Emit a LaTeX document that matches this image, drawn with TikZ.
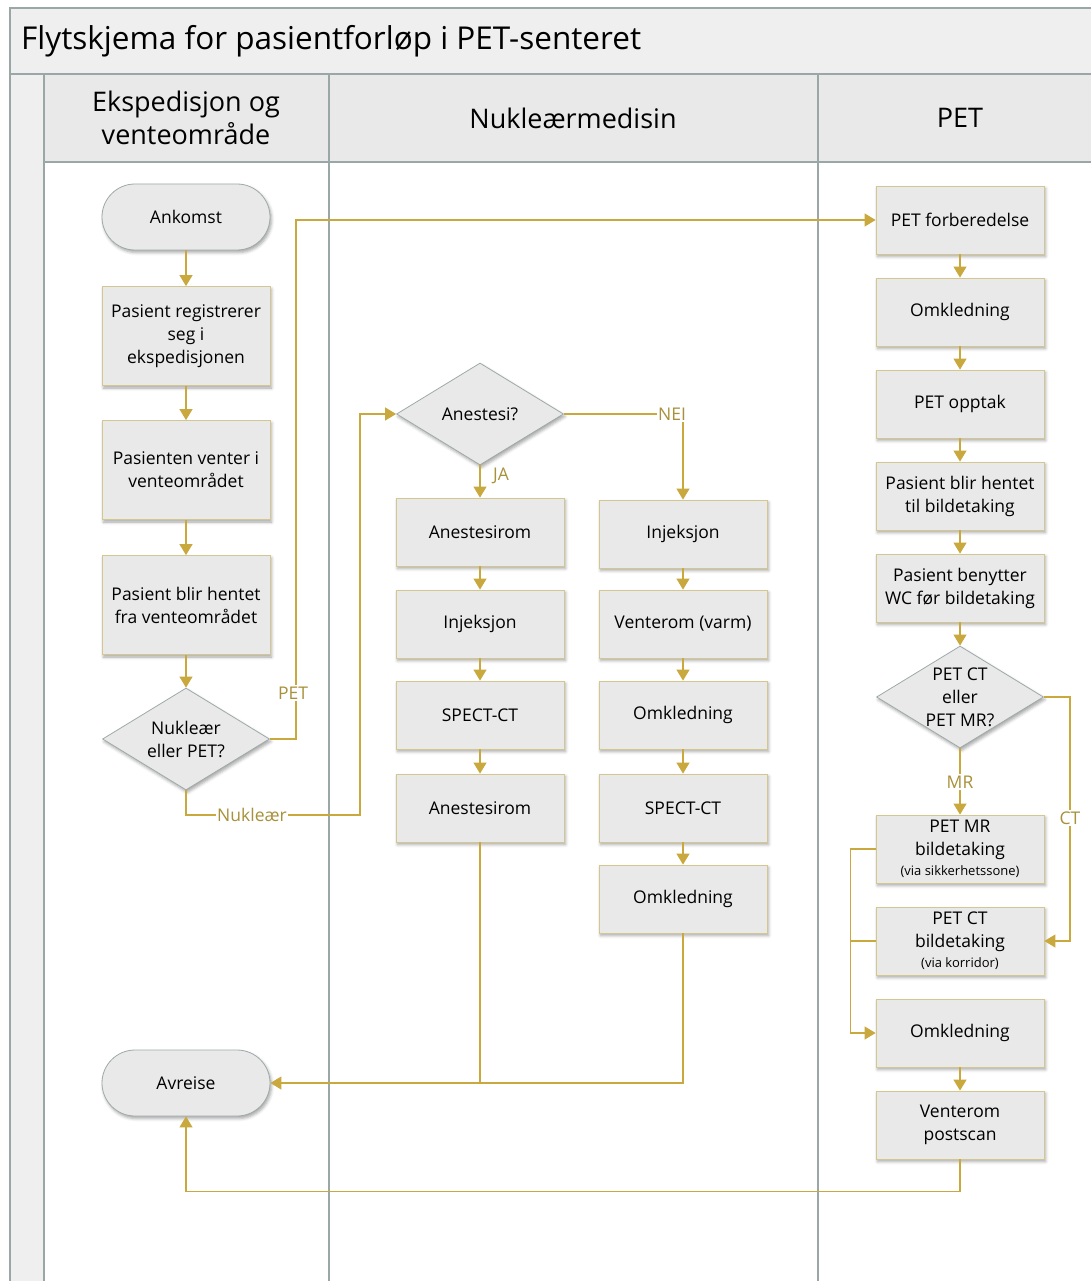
\documentclass[tikz,border=0pt]{standalone}
\usepackage{fontspec}
\setmainfont{Open Sans}
\usetikzlibrary{shapes.geometric,arrows.meta,shadows.blur}

\definecolor{lane}{HTML}{9BA7A7}
\definecolor{flow}{HTML}{C9A83E}
\definecolor{flowtext}{HTML}{A8913A}
\definecolor{boxfill}{HTML}{E9E9E9}
\definecolor{boxedge}{HTML}{D3C68E}
\definecolor{termedge}{HTML}{9FA9A9}
\definecolor{headfill}{HTML}{EFEFEF}
\definecolor{lanehead}{HTML}{E9E9E9}

\tikzset{
  boxshadow/.style={blur shadow={shadow xshift=1.5pt,shadow yshift=-2.5pt,shadow blur radius=3pt,shadow opacity=35}},
  proc/.style={rectangle,draw=boxedge,line width=0.8pt,fill=boxfill,boxshadow,
    minimum width=168,minimum height=68,align=center,inner sep=2pt,
    font=\fontsize{17.5}{23}\selectfont},
  tallproc/.style={proc,minimum height=99},
  term/.style={rectangle,rounded corners=33,draw=termedge,line width=0.8pt,fill=boxfill,boxshadow,
    minimum width=168,minimum height=66,font=\fontsize{17.5}{23}\selectfont},
  decision/.style={diamond,draw=termedge,line width=0.8pt,fill=boxfill,boxshadow,
    minimum width=167,minimum height=102,inner sep=0pt},
  dtext/.style={align=center,font=\fontsize{17.5}{23}\selectfont,inner sep=0pt},
  flowline/.style={draw=flow,line width=1.2pt},
  flowarrow/.style={flowline,-{Triangle[length=11pt,width=13pt]}},
  flowlabel/.style={fill=white,text=flowtext,inner sep=1.5pt,font=\fontsize{17.5}{19}\selectfont},
  laneline/.style={draw=lane,line width=1.3pt},
  headtext/.style={align=center,font=\fontsize{27}{33}\selectfont}
}
\newcommand{\viatext}[1]{{\fontsize{13}{15}\selectfont #1}}

\begin{document}
\begin{tikzpicture}[x=1pt,y=-1pt]
\useasboundingbox (0,0) rectangle (1091,1281);

% pool frame, title bar and lane headers
\fill[headfill] (10,8) rectangle (1091,74);
\fill[headfill] (10,74) rectangle (44,1281);
\fill[lanehead] (44,74) rectangle (1091,162);
\draw[laneline] (10,1281) -- (10,8) -- (1091,8);
\draw[laneline] (10,74) -- (1091,74);
\draw[laneline] (44,162) -- (1091,162);
\draw[laneline] (44,74) -- (44,1281);
\draw[laneline] (329,74) -- (329,1281);
\draw[laneline] (818,74) -- (818,1281);

\node[anchor=west,font=\fontsize{31.5}{36}\selectfont,inner sep=0pt] (title) at (21,41) {Flytskjema for pasientforløp i PET-senteret};
\node[headtext] (h1) at (186,118) {Ekspedisjon og\\venteområde};
\node[headtext] (h2) at (573,118) {Nukleærmedisin};
\node[headtext] (h3) at (960,118) {PET};

% lane 1: reception and waiting area
\node[term] (ankomst) at (186,217) {Ankomst};
\node[tallproc] (reg) at (186,336) {Pasient registrerer\\seg i\\ekspedisjonen};
\node[tallproc] (venter) at (186,470) {Pasienten venter i\\venteområdet};
\node[tallproc] (hentet) at (186,605) {Pasient blir hentet\\fra venteområdet};
\node[decision] (valg) at (186,739) {};
\node[dtext] (valgtxt) at (valg) {Nukleær\\eller PET?};
\node[term] (avreise) at (186,1083) {Avreise};

% lane 2: nuclear medicine
\node[decision] (anest) at (480,414) {};
\node[dtext] (anesttxt) at (anest) {Anestesi?};
\node[proc] (arA) at (480,532) {Anestesirom};
\node[proc] (injA) at (480,624) {Injeksjon};
\node[proc] (spectA) at (480,715) {SPECT-CT};
\node[proc] (arB) at (480,808) {Anestesirom};
\node[proc] (injB) at (683,534) {Injeksjon};
\node[proc] (varm) at (683,624) {Venterom (varm)};
\node[proc] (omkA) at (683,715) {Omkledning};
\node[proc] (spectB) at (683,808) {SPECT-CT};
\node[proc] (omkB) at (683,899) {Omkledning};

% lane 3: PET
\node[proc] (prep) at (960,220) {PET forberedelse};
\node[proc] (omkC) at (960,312) {Omkledning};
\node[proc] (opptak) at (960,404) {PET opptak};
\node[proc] (tilbilde) at (960,496) {Pasient blir hentet\\til bildetaking};
\node[proc] (wc) at (960,588) {Pasient benytter\\WC før bildetaking};
\node[decision] (modal) at (960,697) {};
\node[dtext] (modaltxt) at (modal) {PET CT\\eller\\PET MR?};
\node[proc] (petmr) at (960,849) {PET MR\\bildetaking\\[-3pt]\viatext{(via sikkerhetssone)}};
\node[proc] (petct) at (960,941) {PET CT\\bildetaking\\[-3pt]\viatext{(via korridor)}};
\node[proc] (omkD) at (960,1033) {Omkledning};
\node[proc] (post) at (960,1125) {Venterom\\postscan};

% connectors, lane 1
\draw[flowarrow] (ankomst) -- (reg);
\draw[flowarrow] (reg) -- (venter);
\draw[flowarrow] (venter) -- (hentet);
\draw[flowarrow] (hentet) -- (valg);
\draw[flowarrow] (valg.east) -- ++(26,0) |- (prep.west);
\node[flowlabel] (lpet) at (293,693) {PET};
\draw[flowarrow] (valg.south) |- (360,815) |- (anest.west);
\node[flowlabel] (lnuk) at (252,815) {Nukleær};

% connectors, lane 2
\draw[flowarrow] (anest.south) -- (arA);
\node[text=flowtext,font=\fontsize{17.5}{19}\selectfont] (lja) at (501,476) {JA};
\draw[flowarrow] (anest.east) -| (injB.north);
\node[flowlabel] (lnei) at (672,414) {NEI};
\draw[flowarrow] (arA) -- (injA);
\draw[flowarrow] (injA) -- (spectA);
\draw[flowarrow] (spectA) -- (arB);
\draw[flowarrow] (injB) -- (varm);
\draw[flowarrow] (varm) -- (omkA);
\draw[flowarrow] (omkA) -- (spectB);
\draw[flowarrow] (spectB) -- (omkB);
\draw[flowarrow] (arB.south) |- (avreise.east);
\draw[flowline] (omkB.south) |- (arB.south |- avreise.east);

% connectors, lane 3
\draw[flowarrow] (prep) -- (omkC);
\draw[flowarrow] (omkC) -- (opptak);
\draw[flowarrow] (opptak) -- (tilbilde);
\draw[flowarrow] (tilbilde) -- (wc);
\draw[flowarrow] (wc) -- (modal.north);
\draw[flowarrow] (modal.south) -- (petmr);
\node[flowlabel] (lmr) at (960,782) {MR};
\draw[flowarrow] (modal.east) -- ++(26,0) |- (petct.east);
\node[flowlabel] (lct) at (1070,818) {CT};
\draw[flowarrow] (petmr.west) -- ++(-25,0) |- (omkD.west);
\draw[flowline] (petct.west) -- ++(-25,0);
\draw[flowarrow] (omkD) -- (post);
\draw[flowarrow] (post.south) -- ++(0,32) -| (avreise.south);
\end{tikzpicture}
\end{document}
